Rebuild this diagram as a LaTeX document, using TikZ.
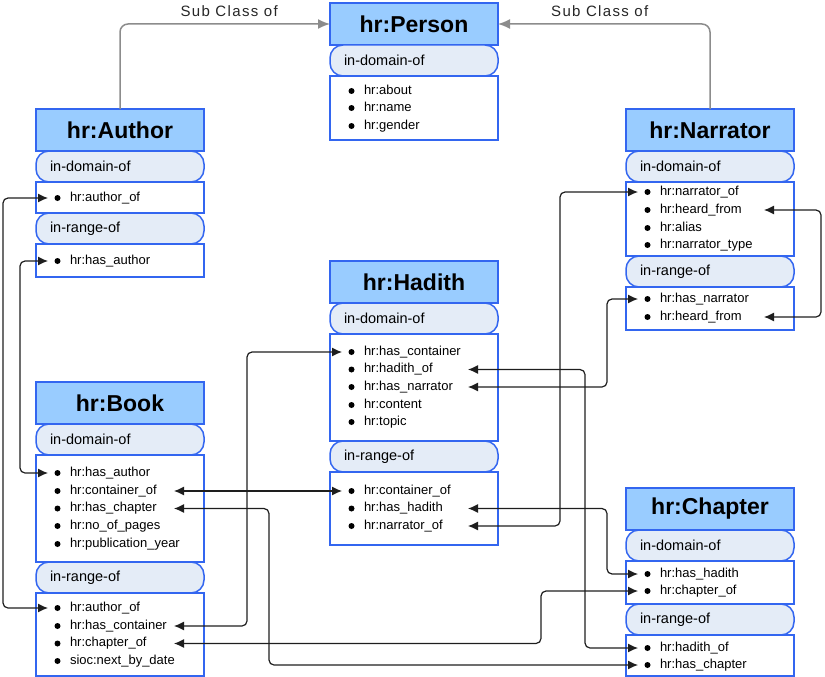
\documentclass[tikz,border=0pt]{standalone}
\usepackage{fontspec}
\setmainfont{Liberation Sans}
\usetikzlibrary{positioning,arrows.meta}
\definecolor{headblue}{RGB}{153,204,255}
\definecolor{edgeblue}{RGB}{51,102,240}
\definecolor{groupgrey}{RGB}{228,236,247}
\definecolor{linkgrey}{RGB}{30,30,30}
\definecolor{subgrey}{RGB}{140,140,140}
\newcommand{\propgap}{\hspace*{18pt}}

\begin{document}
\begin{tikzpicture}[x=1pt,y=-1pt,
    clshead/.style={draw=edgeblue,fill=headblue,line width=1.5pt,minimum width=168pt,minimum height=42pt,outer sep=0pt,font=\fontsize{23}{25}\selectfont\bfseries},
    grp/.style={draw=edgeblue,fill=groupgrey,line width=1.5pt,rounded corners=13pt,minimum height=31pt,text width=140pt,inner xsep=14pt,align=left,outer sep=0pt,font=\fontsize{14.5}{16}\selectfont,below=0pt of #1},
    propbox/.style={draw=edgeblue,fill=white,line width=1.5pt,minimum width=168pt,outer sep=0pt,below=0pt of #1},
    prop/.style={anchor=west,inner xsep=4pt,inner ysep=0pt,outer sep=0pt,text width=118pt,align=left,text height=9.5pt,text depth=3pt,font=\fontsize{13}{15}\selectfont},
    link/.style={draw=linkgrey,line width=1.2pt,rounded corners=5pt,arrows={Latex[length=10pt,width=9pt]-Latex[length=10pt,width=9pt]}},
    subcls/.style={draw=subgrey,line width=1.5pt,rounded corners=8pt,arrows={-Latex[length=12pt,width=10pt]}},
    subtxt/.style={font=\fontsize{15}{17}\selectfont\addfontfeature{LetterSpace=9},text=black!85}]
  \useasboundingbox (0,0) rectangle (825,677);

  % class blocks
  \node[clshead] (psHead) at (414,24) {hr:Person};
  \node[grp=psHead] (psDom) {in-domain-of};
  \node[propbox=psDom,minimum height=64pt] (psDomBox) {};

  \node[clshead] (auHead) at (120,130) {hr:Author};
  \node[grp=auHead] (auDom) {in-domain-of};
  \node[propbox=auDom,minimum height=31pt] (auDomBox) {};
  \node[grp=auDomBox] (auRng) {in-range-of};
  \node[propbox=auRng,minimum height=33pt] (auRngBox) {};

  \node[clshead] (nrHead) at (710,130) {hr:Narrator};
  \node[grp=nrHead] (nrDom) {in-domain-of};
  \node[propbox=nrDom,minimum height=74pt] (nrDomBox) {};
  \node[grp=nrDomBox] (nrRng) {in-range-of};
  \node[propbox=nrRng,minimum height=43pt] (nrRngBox) {};

  \node[clshead] (hdHead) at (414,282) {hr:Hadith};
  \node[grp=hdHead] (hdDom) {in-domain-of};
  \node[propbox=hdDom,minimum height=107pt] (hdDomBox) {};
  \node[grp=hdDomBox] (hdRng) {in-range-of};
  \node[propbox=hdRng,minimum height=73pt] (hdRngBox) {};

  \node[clshead] (bkHead) at (120,403) {hr:Book};
  \node[grp=bkHead] (bkDom) {in-domain-of};
  \node[propbox=bkDom,minimum height=107pt] (bkDomBox) {};
  \node[grp=bkDomBox] (bkRng) {in-range-of};
  \node[propbox=bkRng,minimum height=83pt] (bkRngBox) {};

  \node[clshead] (chHead) at (710,509) {hr:Chapter};
  \node[grp=chHead] (chDom) {in-domain-of};
  \node[propbox=chDom,minimum height=43pt] (chDomBox) {};
  \node[grp=chDomBox] (chRng) {in-range-of};
  \node[propbox=chRng,minimum height=41pt] (chRngBox) {};

  % properties
  \node[prop] (ps-about) at (342,91) {\propgap hr:about};
  \node[prop] (ps-name) at (342,108) {\propgap hr:name};
  \node[prop] (ps-gender) at (342,126) {\propgap hr:gender};

  \node[prop] (au-authorof) at (48,198) {\propgap hr:author\_of};
  \node[prop] (au-hasauthor) at (48,261) {\propgap hr:has\_author};

  \node[prop] (nr-narratorof) at (638,192) {\propgap hr:narrator\_of};
  \node[prop] (nr-heardfrom) at (638,210) {\propgap hr:heard\_from};
  \node[prop] (nr-alias) at (638,228) {\propgap hr:alias};
  \node[prop] (nr-type) at (638,245) {\propgap hr:narrator\_type};
  \node[prop] (nr-hasnarrator) at (638,299) {\propgap hr:has\_narrator};
  \node[prop] (nr-heardfrom2) at (638,317) {\propgap hr:heard\_from};

  \node[prop] (hd-hascontainer) at (342,352) {\propgap hr:has\_container};
  \node[prop] (hd-hadithof) at (342,369.5) {\propgap hr:hadith\_of};
  \node[prop] (hd-hasnarrator) at (342,387) {\propgap hr:has\_narrator};
  \node[prop] (hd-content) at (342,405) {\propgap hr:content};
  \node[prop] (hd-topic) at (342,422) {\propgap hr:topic};
  \node[prop] (hd-containerof) at (342,491) {\propgap hr:container\_of};
  \node[prop] (hd-hashadith) at (342,508.5) {\propgap hr:has\_hadith};
  \node[prop] (hd-narratorof) at (342,526) {\propgap hr:narrator\_of};

  \node[prop] (bk-hasauthor) at (48,473) {\propgap hr:has\_author};
  \node[prop] (bk-containerof) at (48,491) {\propgap hr:container\_of};
  \node[prop] (bk-haschapter) at (48,508.5) {\propgap hr:has\_chapter};
  \node[prop] (bk-pages) at (48,526) {\propgap hr:no\_of\_pages};
  \node[prop] (bk-year) at (48,544) {\propgap hr:publication\_year};
  \node[prop] (bk-authorof) at (48,608) {\propgap hr:author\_of};
  \node[prop] (bk-hascontainer) at (48,626) {\propgap hr:has\_container};
  \node[prop] (bk-chapterof) at (48,643.5) {\propgap hr:chapter\_of};
  \node[prop] (bk-nextbydate) at (48,661) {\propgap sioc:next\_by\_date};

  \node[prop] (ch-hashadith) at (638,574) {\propgap hr:has\_hadith};
  \node[prop] (ch-chapterof) at (638,591) {\propgap hr:chapter\_of};
  \node[prop] (ch-hadithof) at (638,648) {\propgap hr:hadith\_of};
  \node[prop] (ch-haschapter) at (638,665) {\propgap hr:has\_chapter};

  % bullets
  \foreach \p in {ps-about,ps-name,ps-gender,au-authorof,au-hasauthor,
      nr-narratorof,nr-heardfrom,nr-alias,nr-type,nr-hasnarrator,nr-heardfrom2,
      hd-hascontainer,hd-hadithof,hd-hasnarrator,hd-content,hd-topic,
      hd-containerof,hd-hashadith,hd-narratorof,
      bk-hasauthor,bk-containerof,bk-haschapter,bk-pages,bk-year,
      bk-authorof,bk-hascontainer,bk-chapterof,bk-nextbydate,
      ch-hashadith,ch-chapterof,ch-hadithof,ch-haschapter}
    \fill ([xshift=9.5pt]\p.west) circle (3pt);

  % sub class links
  \draw[subcls] (auHead.north) |- (psHead.west) node[subtxt,pos=0.76,above=3pt] {Sub Class of};
  \draw[subcls] (nrHead.north) |- (psHead.east) node[subtxt,pos=0.76,above=3pt] {Sub Class of};

  % property links
  \draw[link] (au-authorof.west) -- ++(-45,0) |- (bk-authorof.west);
  \draw[link] (au-hasauthor.west) -- ++(-28,0) |- (bk-hasauthor.west);
  \draw[link] (bk-containerof.east) -- (hd-containerof.west);
  \draw[link] (bk-haschapter.east) -- ++(95,0) |- (ch-haschapter.west);
  \draw[link] (bk-hascontainer.east) -- ++(73,0) |- (hd-hascontainer.west);
  \draw[link] (bk-chapterof.east) -- ++(367,0) |- (ch-chapterof.west);
  \draw[link] (hd-hadithof.east) -- ++(117,0) |- (ch-hadithof.west);
  \draw[link] (hd-hasnarrator.east) -- ++(139,0) |- (nr-hasnarrator.west);
  \draw[link] (hd-hashadith.east) -- ++(139,0) |- (ch-hashadith.west);
  \draw[link] (hd-narratorof.east) -- ++(92,0) |- (nr-narratorof.west);
  \draw[link] (nr-heardfrom.east) -- ++(57,0) |- (nr-heardfrom2.east);
\end{tikzpicture}
\end{document}
